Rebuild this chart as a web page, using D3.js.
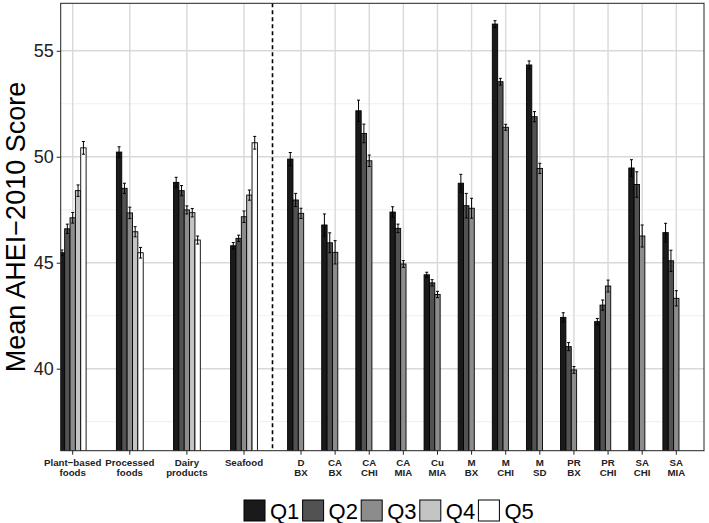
<!DOCTYPE html>
<html>
<head>
<meta charset="utf-8">
<script src="https://cdn.jsdelivr.net/npm/d3@7"></script>
<style>
  body { margin: 0; background: #fff; }
  text { font-family: "Liberation Sans", Arial, Helvetica, sans-serif; }
</style>
</head>
<body>
<div id="chart"></div>
<script>
// categories: food groups on the left, site groups on the right of the dashed line
var foodCats = ["Plant−based\nfoods", "Processed\nfoods", "Dairy\nproducts", "Seafood"];
var siteCats = ["D\nBX", "CA\nBX", "CA\nCHI", "CA\nMIA", "Cu\nMIA", "M\nBX",
                "M\nCHI", "M\nSD", "PR\nBX", "PR\nCHI", "SA\nCHI", "SA\nMIA"];
var quintiles = ["Q1", "Q2", "Q3", "Q4", "Q5"];

// mean scores per quintile (food groups first, then sites)
var q1 = [45.47, 50.22, 48.79, 45.80, 49.89, 46.78, 52.17, 47.39, 44.43, 48.75, 56.26, 54.33, 42.42, 42.22, 49.47, 46.42];
var q2 = [46.60, 48.51, 48.40, 46.15, 47.96, 45.94, 51.10, 46.62, 44.05, 47.69, 53.54, 51.89, 41.04, 43.00, 48.69, 45.09];
var q3 = [47.12, 47.35, 47.49, 47.17, 47.33, 45.49, 49.81, 44.94, 43.50, 47.57, 51.39, 49.45, 39.94, 43.90, 46.26, 43.32];
var q4 = [48.40, 46.46, 47.36, 48.19, null, null, null, null, null, null, null, null, null, null, null, null];
var q5 = [50.42, 45.47, 46.07, 50.66, null, null, null, null, null, null, null, null, null, null, null, null];

// standard errors
var e1 = [0.13, 0.25, 0.24, 0.15, 0.31, 0.52, 0.50, 0.25, 0.12, 0.42, 0.16, 0.19, 0.22, 0.15, 0.39, 0.44];
var e2 = [0.22, 0.24, 0.24, 0.15, 0.31, 0.47, 0.44, 0.20, 0.15, 0.58, 0.16, 0.24, 0.19, 0.24, 0.60, 0.50];
var e3 = [0.25, 0.27, 0.19, 0.27, 0.24, 0.55, 0.27, 0.16, 0.15, 0.47, 0.14, 0.24, 0.16, 0.28, 0.52, 0.36];
var e4 = [0.27, 0.24, 0.20, 0.24, null, null, null, null, null, null, null, null, null, null, null, null];
var e5 = [0.30, 0.25, 0.19, 0.30, null, null, null, null, null, null, null, null, null, null, null, null];

var yTicks = [40, 45, 50, 55];
var yMinor = [37.5, 42.5, 47.5, 52.5];

function init() {
    var w = 709, h = 523;
    var left = 60.7, right = 704, top = 3.3, bottom = 450.7;

    var fills = d3.scaleOrdinal()
        .domain(quintiles)
        .range(["#1a1a1a", "#525252", "#8c8c8c", "#c4c4c4", "#ffffff"]);

    var y = d3.scaleLinear().domain([36.13, 57.24]).range([bottom, top]);

    // two point scales so the food and site blocks keep their own spacing
    var xFood = d3.scalePoint().domain(foodCats).range([72.7, 244]);
    var xSite = d3.scalePoint().domain(siteCats).range([301, 676.3]);
    function xc(cat) { return foodCats.indexOf(cat) >= 0 ? xFood(cat) : xSite(cat); }

    var dodge = d3.scaleBand().domain(quintiles).range([-13.4, 13.4]).padding(0);

    var cats = foodCats.concat(siteCats);
    var vals = [q1, q2, q3, q4, q5];
    var errs = [e1, e2, e3, e4, e5];
    var rows = [];
    cats.forEach(function (c, i) {
        quintiles.forEach(function (q, j) {
            if (vals[j][i] != null) rows.push({ cat: c, q: q, v: vals[j][i], e: errs[j][i] });
        });
    });

    var svg = d3.select("#chart").append("svg")
        .attr("width", w).attr("height", h);

    svg.append("defs").append("clipPath").attr("id", "clip")
        .append("rect").attr("x", left).attr("y", top)
        .attr("width", right - left).attr("height", bottom - top);

    // grid
    var grid = svg.append("g");
    grid.selectAll(".ymin").data(yMinor).enter().append("line")
        .attr("x1", left).attr("x2", right)
        .attr("y1", d => y(d)).attr("y2", d => y(d))
        .attr("stroke", "#ebebeb").attr("stroke-width", 0.8);
    grid.selectAll(".ymaj").data(yTicks).enter().append("line")
        .attr("x1", left).attr("x2", right)
        .attr("y1", d => y(d)).attr("y2", d => y(d))
        .attr("stroke", "#d9d9d9").attr("stroke-width", 1.4);
    grid.selectAll(".xmaj").data(cats).enter().append("line")
        .attr("x1", d => xc(d)).attr("x2", d => xc(d))
        .attr("y1", top).attr("y2", bottom)
        .attr("stroke", "#d9d9d9").attr("stroke-width", 1.4);

    // bars
    var plot = svg.append("g").attr("clip-path", "url(#clip)");
    plot.selectAll("rect.bar").data(rows).enter().append("rect")
        .attr("class", "bar")
        .attr("x", d => xc(d.cat) + dodge(d.q))
        .attr("width", dodge.bandwidth())
        .attr("y", d => y(d.v))
        .attr("height", d => bottom + 10 - y(d.v))
        .attr("fill", d => fills(d.q))
        .attr("stroke", "#000").attr("stroke-width", 0.9);

    // error bars
    var eb = plot.selectAll("g.err").data(rows).enter().append("g")
        .attr("stroke", "#000").attr("stroke-width", 1);
    var cap = dodge.bandwidth() * 0.28;
    eb.append("line")
        .attr("x1", d => xc(d.cat) + dodge(d.q) + dodge.bandwidth() / 2)
        .attr("x2", d => xc(d.cat) + dodge(d.q) + dodge.bandwidth() / 2)
        .attr("y1", d => y(d.v - d.e)).attr("y2", d => y(d.v + d.e));
    eb.append("line")
        .attr("x1", d => xc(d.cat) + dodge(d.q) + dodge.bandwidth() / 2 - cap)
        .attr("x2", d => xc(d.cat) + dodge(d.q) + dodge.bandwidth() / 2 + cap)
        .attr("y1", d => y(d.v + d.e)).attr("y2", d => y(d.v + d.e));
    eb.append("line")
        .attr("x1", d => xc(d.cat) + dodge(d.q) + dodge.bandwidth() / 2 - cap)
        .attr("x2", d => xc(d.cat) + dodge(d.q) + dodge.bandwidth() / 2 + cap)
        .attr("y1", d => y(d.v - d.e)).attr("y2", d => y(d.v - d.e));

    // dashed separator
    var sepX = (xFood(foodCats[foodCats.length - 1]) + xSite(siteCats[0])) / 2;
    svg.append("line")
        .attr("x1", sepX).attr("x2", sepX).attr("y1", top).attr("y2", bottom)
        .attr("stroke", "#000").attr("stroke-width", 1.6)
        .attr("stroke-dasharray", "4,3");

    // panel border
    svg.append("rect").attr("x", left).attr("y", top)
        .attr("width", right - left).attr("height", bottom - top)
        .attr("fill", "none").attr("stroke", "#222").attr("stroke-width", 1);

    // y axis
    var yAxis = svg.append("g")
        .attr("transform", "translate(" + left + ",0)")
        .call(d3.axisLeft(y).tickValues(yTicks).tickSize(4).tickPadding(3));
    yAxis.select(".domain").remove();
    yAxis.selectAll(".tick line").attr("stroke", "#222");
    yAxis.selectAll("text").attr("font-size", 18).attr("fill", "#222")
        .style("font-family", "'Liberation Sans', Arial, sans-serif");

    svg.append("text")
        .attr("transform", "translate(25," + ((top + bottom) / 2) + ") rotate(-90)")
        .attr("text-anchor", "middle")
        .attr("font-size", 27).attr("fill", "#000")
        .text("Mean AHEI−2010 Score");

    // x axis ticks and two-line labels
    var xg = svg.append("g");
    xg.selectAll("line").data(cats).enter().append("line")
        .attr("x1", d => xc(d)).attr("x2", d => xc(d))
        .attr("y1", bottom).attr("y2", bottom + 4)
        .attr("stroke", "#222");
    var lab = xg.selectAll("text").data(cats).enter().append("text")
        .attr("text-anchor", "middle")
        .attr("font-size", 9.7).attr("font-weight", "bold").attr("fill", "#222")
        .attr("transform", d => "translate(" + xc(d) + ",465.7)");
    lab.selectAll("tspan").data(d => d.split("\n")).enter().append("tspan")
        .attr("x", 0).attr("dy", (d, i) => i === 0 ? 0 : 10.4)
        .text(d => d);

    // legend
    var lg = svg.append("g").selectAll("g").data(quintiles).enter().append("g")
        .attr("transform", (d, i) => "translate(" + (244 + i * 58.6) + ",500)");
    lg.append("rect").attr("width", 21).attr("height", 21)
        .attr("fill", d => fills(d)).attr("stroke", "#000").attr("stroke-width", 1);
    lg.append("text").attr("x", 26).attr("y", 18.5)
        .attr("font-size", 22).attr("fill", "#000")
        .text(d => d);
}

window.onload = init;
</script>
</body>
</html>
